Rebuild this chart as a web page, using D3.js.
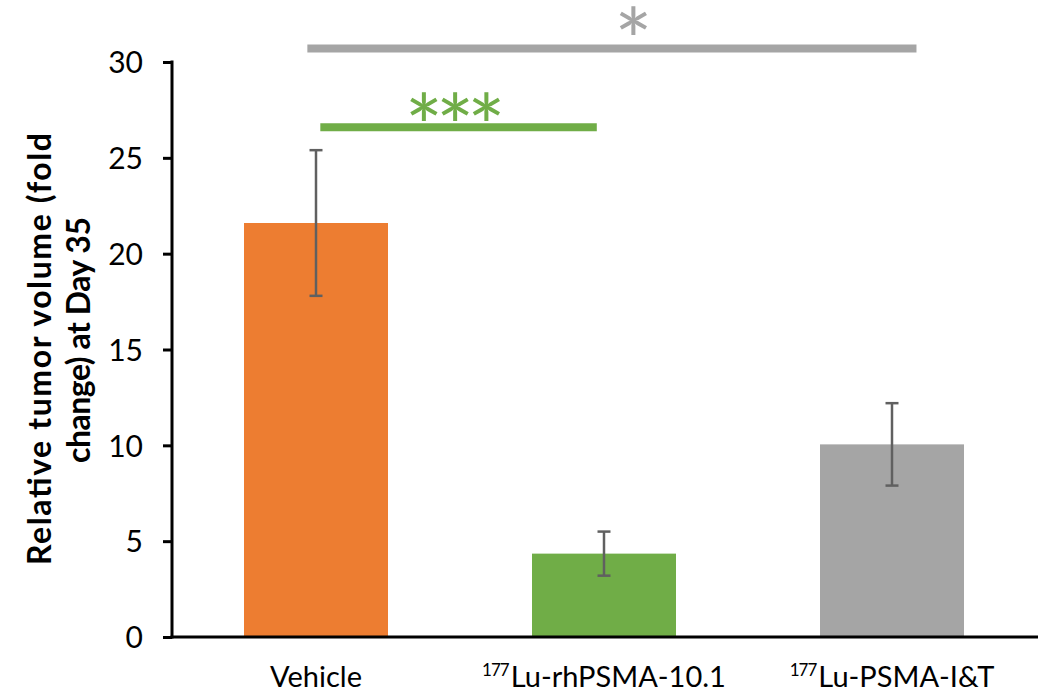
<!DOCTYPE html>
<html>
<head>
<meta charset="utf-8">
<script src="https://cdn.jsdelivr.net/npm/d3@7"></script>
<style>
  html, body { margin: 0; padding: 0; background: #fff; }
  svg text { font-family: Lato, "Open Sans", sans-serif; }
</style>
</head>
<body>
<svg id="chart" width="1038" height="692"></svg>
<script>
// Groups, means and error (± SD) of relative tumor volume at day 35
const groups = ["Vehicle", "Lu-rhPSMA-10.1", "Lu-PSMA-I&T"];
const isotope = ["", "177", "177"];
const labelText = ["Vehicle", "Lu-rhPSMA-10.1", "Lu-PSMA-I&T"];
const means = [21.6, 4.35, 10.05];
const errors = [3.8, 1.15, 2.15];
const colors = ["#ED7D31", "#70AD47", "#A5A5A5"];
const yTicks = [0, 5, 10, 15, 20, 25, 30];

// Significance brackets: from group, to group, level (in data units), label, colour
const sigFrom = [0, 0];
const sigTo = [2, 1];
const sigLevel = [30.7, 26.6];
const sigLabel = ["*", "***"];
const sigColor = ["#A5A5A5", "#70AD47"];

const svg = d3.select("#chart");
const margin = { left: 172, right: 2, top: 62, bottom: 55 };
const W = 1038, H = 692;

const x = d3.scaleBand()
  .domain(groups)
  .range([margin.left, W - margin.right])
  .paddingInner(0.5)
  .paddingOuter(0.25);

const y = d3.scaleLinear()
  .domain([0, 30])
  .range([H - margin.bottom, margin.top]);

// Bars
svg.append("g").selectAll("rect")
  .data(groups)
  .join("rect")
  .attr("x", d => x(d))
  .attr("width", x.bandwidth())
  .attr("y", (d, i) => y(means[i]))
  .attr("height", (d, i) => y(0) - y(means[i]))
  .attr("fill", (d, i) => colors[i]);

// Error bars
const eb = svg.append("g").attr("stroke", "#606060").attr("stroke-width", 2.5);
groups.forEach((g, i) => {
  const cx = x(g) + x.bandwidth() / 2;
  const top = y(means[i] + errors[i]);
  const bot = y(means[i] - errors[i]);
  eb.append("line").attr("x1", cx).attr("x2", cx).attr("y1", top).attr("y2", bot);
  eb.append("line").attr("x1", cx - 6.5).attr("x2", cx + 6.5).attr("y1", top).attr("y2", top);
  eb.append("line").attr("x1", cx - 6.5).attr("x2", cx + 6.5).attr("y1", bot).attr("y2", bot);
});

// Y axis
const yAxis = svg.append("g")
  .attr("transform", `translate(${margin.left},0)`)
  .call(d3.axisLeft(y).tickValues(yTicks).tickSize(9).tickSizeOuter(0).tickPadding(20));
yAxis.select(".domain").attr("stroke", "#000").attr("stroke-width", 3)
  .attr("d", `M0,${y(0) + 1.5}V${y(30) - 1.5}`);
yAxis.selectAll(".tick line").attr("stroke", "#000").attr("stroke-width", 3);
yAxis.selectAll(".tick text").attr("font-size", 30).attr("fill", "#000")
  .attr("dy", "0.36em")
  .style("font-family", "Lato, sans-serif");

// X axis baseline
svg.append("line")
  .attr("x1", margin.left - 1.5).attr("x2", W - margin.right + 2)
  .attr("y1", y(0)).attr("y2", y(0))
  .attr("stroke", "#000").attr("stroke-width", 3);

// Category labels with superscript isotope mass
const xl = svg.append("g");
groups.forEach((g, i) => {
  const t = xl.append("text")
    .attr("x", x(g) + x.bandwidth() / 2)
    .attr("y", 687)
    .attr("text-anchor", "middle")
    .attr("font-size", 29)
    .attr("fill", "#000");
  if (isotope[i]) {
    t.append("tspan").attr("font-size", 17).attr("letter-spacing", -1)
      .attr("dy", -11).text(isotope[i]);
    t.append("tspan").attr("dy", 11).attr("dx", 2).text(labelText[i]);
  } else {
    t.text(labelText[i]);
  }
});

// Y axis title (two lines, rotated)
const cy = 345;
const yt = svg.append("text")
  .attr("transform", `translate(0,${cy}) rotate(-90)`)
  .attr("text-anchor", "middle")
  .attr("font-size", 32)
  .attr("font-weight", "bold")
  .attr("fill", "#000");
yt.append("tspan").attr("x", cy - 349).attr("y", 51)
  .attr("textLength", 432).attr("lengthAdjust", "spacing")
  .text("Relative tumor volume (fold");
yt.append("tspan").attr("x", cy - 340).attr("y", 90)
  .attr("textLength", 246).attr("lengthAdjust", "spacing")
  .text("change) at Day 35");

// Significance brackets
const sigStart = [0.44, 0.53];   // fraction across the first bar's band
const sigEnd = [0.67, 0.45];     // fraction across the last bar's band
const sigStarShift = [18, -7];
const sigStarDrop = [25, 33];
sigFrom.forEach((f, i) => {
  const x1 = x(groups[f]) + sigStart[i] * x.bandwidth();
  const x2 = x(groups[sigTo[i]]) + sigEnd[i] * x.bandwidth();
  const yy = y(sigLevel[i]);
  svg.append("line")
    .attr("x1", x1).attr("x2", x2).attr("y1", yy).attr("y2", yy)
    .attr("stroke", sigColor[i]).attr("stroke-width", 8);
  svg.append("text")
    .attr("x", (x1 + x2) / 2 + sigStarShift[i])
    .attr("y", yy + sigStarDrop[i])
    .attr("text-anchor", "middle")
    .attr("font-size", 90)
    .attr("letter-spacing", -7)
    .attr("fill", sigColor[i])
    .text(sigLabel[i]);
});
</script>
</body>
</html>
